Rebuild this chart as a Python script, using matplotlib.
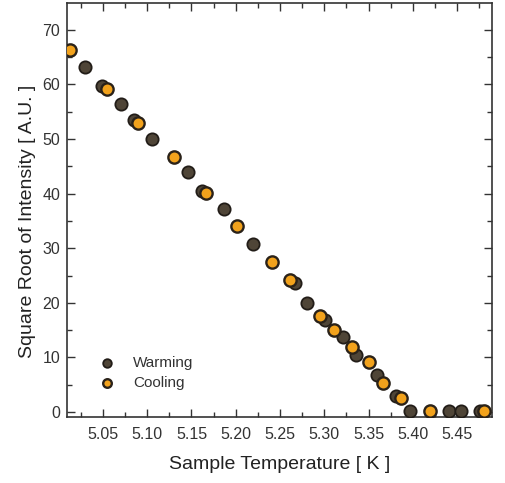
import matplotlib
matplotlib.use("Agg")
import matplotlib.pyplot as plt
from matplotlib.ticker import MultipleLocator, FormatStrFormatter

plt.rcParams["font.family"] = ["Liberation Sans", "DejaVu Sans"]

# Square root of scattered intensity vs. sample temperature
warming_T = [5.030, 5.049, 5.070, 5.085, 5.105, 5.146, 5.162, 5.187, 5.220,
             5.267, 5.281, 5.301, 5.321, 5.336, 5.360, 5.381, 5.397, 5.441,
             5.455, 5.476]
warming_I = [63.2, 59.7, 56.4, 53.5, 50.0, 44.0, 40.5, 37.2, 30.8,
             23.6, 20.0, 16.8, 13.7, 10.4, 6.8, 2.9, 0.2, 0.2,
             0.2, 0.2]

cooling_T = [5.013, 5.055, 5.090, 5.130, 5.166, 5.202, 5.241, 5.261, 5.295,
             5.311, 5.331, 5.350, 5.366, 5.387, 5.420, 5.480]
cooling_I = [66.3, 59.2, 52.9, 46.7, 40.1, 34.1, 27.5, 24.2, 17.6,
             15.0, 11.9, 9.2, 5.3, 2.6, 0.2, 0.2]

x_ticks = [5.05, 5.10, 5.15, 5.20, 5.25, 5.30, 5.35, 5.40, 5.45]
y_ticks = [0, 10, 20, 30, 40, 50, 60, 70]

fig = plt.figure(figsize=(5.06, 4.83), dpi=100)
ax = fig.add_axes([67 / 506, 1 - 417 / 483, 425 / 506, 414 / 483])

ax.scatter(warming_T, warming_I, s=78, facecolor="#4f4537", edgecolor="#221d18",
           linewidth=1.3, label="Warming", zorder=3)
ax.scatter(cooling_T, cooling_I, s=78, facecolor="#f2a21c", edgecolor="#2a2219",
           linewidth=1.7, label="Cooling", zorder=4)

ax.set_xlim(5.0094, 5.4895)
ax.set_ylim(-0.9, 74.9)
ax.set_xticks(x_ticks)
ax.xaxis.set_major_formatter(FormatStrFormatter("%.2f"))
ax.xaxis.set_minor_locator(MultipleLocator(0.025))
ax.set_yticks(y_ticks)
ax.yaxis.set_minor_locator(MultipleLocator(5))

ax.tick_params(which="both", direction="in", top=True, right=True,
               colors="#333333", labelcolor="#333333", labelsize=11.5)
ax.tick_params(which="major", length=6, width=1.0)
ax.tick_params(which="minor", length=3.5, width=1.0)
ax.tick_params(axis="x", pad=7)
ax.tick_params(axis="y", pad=5)
for side in ax.spines.values():
    side.set_color("#333333")
    side.set_linewidth(1.2)

ax.set_xlabel("Sample Temperature [ K ]", fontsize=14, color="#222222")
ax.set_ylabel("Square Root of Intensity [ A.U. ]", fontsize=14, color="#222222")
ax.xaxis.set_label_coords(0.5, -0.095)
ax.yaxis.set_label_coords(-0.073, 0.473)

leg = ax.legend(loc="upper left", bbox_to_anchor=((99.5 - 67) / 425, 0.148),
                frameon=False, fontsize=11, markerscale=0.7, scatterpoints=1,
                handlelength=1.0, handletextpad=1.2, labelspacing=0.42,
                borderpad=0, borderaxespad=0)
for t in leg.get_texts():
    t.set_color("#333333")

fig.savefig("out.png", dpi=100, facecolor="white")
